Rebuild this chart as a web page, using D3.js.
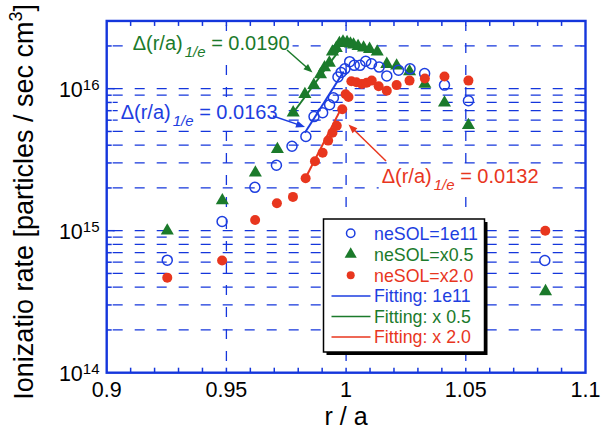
<!DOCTYPE html>
<html><head><meta charset="utf-8">
<script src="https://cdn.jsdelivr.net/npm/d3@7"></script>
<style>body{margin:0;background:#fff}svg{display:block}text{font-family:"Liberation Sans",Arial,Helvetica,sans-serif}</style>
</head><body>
<svg id="c" width="604" height="430"></svg>
<script>
// ---------- data ----------
const rBlue = [0.9253,0.9482,0.9619,0.9709,0.9774,0.9832,0.9866,0.9902,0.9931,0.9947,0.9966,0.9979,0.9995,1.0015,1.0034,1.0058,1.0082,1.0106,1.0138,1.0170,1.0219,1.0267,1.0328,1.0411,1.0511,1.0830];
const vBlue = [6.2e14,1.16e15,2.02e15,2.89e15,3.93e15,4.61e15,6.36e15,6.78e15,7.71e15,8.64e15,1.21e16,1.30e16,1.38e16,1.55e16,1.46e16,1.46e16,1.56e16,1.50e16,1.42e16,1.23e16,1.35e16,1.38e16,1.28e16,1.06e16,8.22e15,6.17e14];
const rGreen = [0.9253,0.9483,0.9621,0.9713,0.9779,0.9828,0.9865,0.9893,0.9910,0.9930,0.9943,0.9959,0.9972,0.9987,1.0004,1.0018,1.0031,1.0050,1.0073,1.0098,1.0130,1.0170,1.0211,1.0265,1.0329,1.0411,1.0511,1.0833];
const vGreen = [1.0e15,1.63e15,2.56e15,3.75e15,6.78e15,9.15e15,1.06e16,1.26e16,1.41e16,1.52e16,1.82e16,1.93e16,2.09e16,2.14e16,2.12e16,2.07e16,2.04e16,1.99e16,1.94e16,1.90e16,1.82e16,1.49e16,1.45e16,1.32e16,1.08e16,7.97e15,5.53e15,3.74e14];
const rRed = [0.9253,0.9482,0.9620,0.9711,0.9778,0.9831,0.9870,0.9902,0.9925,0.9943,0.9961,0.9984,0.9998,1.0010,1.0022,1.0043,1.0066,1.0086,1.0107,1.0136,1.0170,1.0211,1.0265,1.0329,1.0411,1.0511,1.0832];
const vRed = [4.67e14,6.17e14,1.19e15,1.56e15,1.73e15,2.34e15,3.08e15,3.54e15,4.31e15,4.90e15,5.49e15,7.17e15,9.15e15,8.73e15,1.13e16,1.11e16,1.08e16,1.10e16,1.14e16,1.04e16,9.66e15,1.06e16,1.14e16,1.18e16,1.22e16,1.14e16,1.0e15];
// exponential fits (end points)
const fitBlueR = [0.9828, 0.9990], fitBlueV = [4.9e15, 1.32e16];
const fitGreenR = [0.9780, 0.9970], fitGreenV = [6.8e15, 1.85e16];
const fitRedR = [0.9830, 0.9985], fitRedV = [2.34e15, 7.57e15];
const xTickVals = [0.9, 0.95, 1, 1.05, 1.1];
const xTickLabels = ["0.9", "0.95", "1", "1.05", "1.1"];
const yDecadeExps = [14, 15, 16];
const legendLabels = ["neSOL=1e11", "neSOL=x0.5", "neSOL=x2.0", "Fitting: 1e11", "Fitting: x 0.5", "Fitting: x 2.0"];
const annotValues = ["0.0190", "0.0163", "0.0132"];
const xTitle = "r / a";
const yTitle = "Ionizatio rate [particles / sec cm";

// ---------- styles ----------
const BLUE = "#1d3ee0", GREEN = "#1b7a2b", RED = "#e8361e", AX = "#1436dc";
const svg = d3.select("#c");
svg.append("rect").attr("width", 604).attr("height", 430).attr("fill", "#fff");
const L = 106.7, R = 585.5, B = 372.7;
const x = d3.scaleLinear().domain([0.9, 1.1]).range([L, R]);
const y = d3.scaleLog().domain([1e14, 3e16]).range([B, B - Math.log10(300) * 142]);
const T = y(3e16);

const minorY = [];
yDecadeExps.forEach(e => { for (let k = 1; k <= 9; k++) { const v = k * Math.pow(10, e); if (v > 1e14 && v < 3e16 * 0.999) minorY.push(v); } });

const g = svg.append("g");
g.selectAll("line.hg").data(minorY).enter().append("line")
  .attr("x1", L + 6).attr("x2", R - 4).attr("y1", d => y(d)).attr("y2", d => y(d))
  .attr("stroke", AX).attr("stroke-width", 1.3).attr("stroke-dasharray", "10,12");
g.selectAll("line.vg").data(xTickVals.slice(1, -1)).enter().append("line")
  .attr("x1", d => x(d)).attr("x2", d => x(d)).attr("y1", T + 4).attr("y2", B)
  .attr("stroke", AX).attr("stroke-width", 1.3).attr("stroke-dasharray", "10,12").attr("stroke-dashoffset", 4);

const xMinor = d3.range(0.91, 1.095, 0.01);
g.selectAll("line.bt").data(xMinor).enter().append("line")
  .attr("x1", d => x(d)).attr("x2", d => x(d)).attr("y1", B).attr("y2", B - 5).attr("stroke", AX).attr("stroke-width", 1.5);
g.selectAll("line.tt").data(xMinor).enter().append("line")
  .attr("x1", d => x(d)).attr("x2", d => x(d)).attr("y1", T).attr("y2", T + 5).attr("stroke", AX).attr("stroke-width", 1.5);
g.selectAll("line.lt").data(minorY).enter().append("line")
  .attr("x1", L).attr("x2", d => L + (Number.isInteger(Math.log10(d)) ? 8 : 5)).attr("y1", d => y(d)).attr("y2", d => y(d)).attr("stroke", AX).attr("stroke-width", 1.5);
g.selectAll("line.rt").data(minorY).enter().append("line")
  .attr("x1", R).attr("x2", d => R - (Number.isInteger(Math.log10(d)) ? 8 : 5)).attr("y1", d => y(d)).attr("y2", d => y(d)).attr("stroke", AX).attr("stroke-width", 1.5);

g.append("rect").attr("x", L).attr("y", T).attr("width", R - L).attr("height", B - T)
  .attr("fill", "none").attr("stroke", AX).attr("stroke-width", 2.4);

// axis labels
const xl = svg.append("g");
xl.selectAll("text").data(xTickVals).enter().append("text")
  .attr("x", d => x(d)).attr("y", 397).attr("text-anchor", "middle").attr("font-size", 21.5).attr("fill", "#000")
  .text((d, i) => xTickLabels[i]);
const yl = svg.append("g");
yDecadeExps.forEach(e => {
  const t = yl.append("text").attr("x", 99.5).attr("y", y(Math.pow(10, e)) + 8.5).attr("text-anchor", "end").attr("font-size", 21.5).attr("fill", "#000");
  t.append("tspan").text("10");
  t.append("tspan").attr("font-size", 15).attr("dy", -7.5).text(String(e));
});
svg.append("text").attr("x", x(1)).attr("y", 425).attr("text-anchor", "middle").attr("font-size", 25).attr("fill", "#000").text(xTitle);
const yt = svg.append("text").attr("transform", `translate(33,${(T + B) / 2 + 5}) rotate(-90)`).attr("text-anchor", "middle").attr("font-size", 27).attr("fill", "#000");
yt.append("tspan").text(yTitle);
yt.append("tspan").attr("font-size", 18).attr("dy", -11).text("3");
yt.append("tspan").attr("dy", 11).text("]");

// fit lines
const line = d3.line().x(d => x(d[0])).y(d => y(d[1]));
const fits = [[fitGreenR, fitGreenV, GREEN], [fitBlueR, fitBlueV, BLUE], [fitRedR, fitRedV, RED]];
fits.forEach(f => svg.append("path").attr("d", line(f[0].map((r, i) => [r, f[1][i]]))).attr("stroke", f[2]).attr("stroke-width", 2).attr("fill", "none"));

// markers
const tri = d3.symbol().type(d3.symbolTriangle).size(74);
svg.append("g").selectAll("path").data(rGreen.map((r, i) => [r, vGreen[i]])).enter().append("path")
  .attr("d", tri).attr("transform", d => `translate(${x(d[0])},${y(d[1])})`).attr("fill", GREEN);
svg.append("g").selectAll("circle").data(rBlue.map((r, i) => [r, vBlue[i]])).enter().append("circle")
  .attr("cx", d => x(d[0])).attr("cy", d => y(d[1])).attr("r", 5).attr("fill", "none").attr("stroke", BLUE).attr("stroke-width", 1.5);
svg.append("g").selectAll("circle").data(rRed.map((r, i) => [r, vRed[i]])).enter().append("circle")
  .attr("cx", d => x(d[0])).attr("cy", d => y(d[1])).attr("r", 5).attr("fill", RED);

// annotations (white background boxes)
function annot(xp, yp, val, col) {
  const bg = svg.append("rect").attr("fill", "#fff");
  const t = svg.append("text").attr("x", xp).attr("y", yp).attr("font-size", 20).attr("fill", col);
  t.append("tspan").text("\u0394(r/a)");
  t.append("tspan").attr("font-size", 15).attr("font-style", "italic").attr("dx", 2).attr("dy", 7).text("1/e");
  t.append("tspan").attr("dy", -7).text(" = " + val);
  const bb = t.node().getBBox();
  bg.attr("x", bb.x - 3).attr("y", bb.y).attr("width", bb.width + 6).attr("height", bb.height);
}
annot(132.7, 50, annotValues[0], GREEN);
annot(120.7, 118.5, annotValues[1], BLUE);
annot(381.7, 183, annotValues[2], RED);
function arrow(x1, y1, x2, y2, col) {
  const a = Math.atan2(y2 - y1, x2 - x1), len = 9, w = 3.5;
  svg.append("line").attr("x1", x1).attr("y1", y1).attr("x2", x2 - Math.cos(a) * len * 0.8).attr("y2", y2 - Math.sin(a) * len * 0.8).attr("stroke", col).attr("stroke-width", 1.5);
  const bx = x2 - Math.cos(a) * len, by = y2 - Math.sin(a) * len;
  svg.append("path").attr("d", `M${x2},${y2}L${bx - Math.sin(a) * w},${by + Math.cos(a) * w}L${bx + Math.sin(a) * w},${by - Math.cos(a) * w}Z`).attr("fill", col);
}
arrow(287, 50, 312.5, 72.5, GREEN);
arrow(273, 116, 305, 127, BLUE);
arrow(386, 161, 348.5, 124.5, RED);

// legend
const lg = svg.append("g");
const lx = 323.5, ly = 219, lw = 161, lh = 133;
lg.append("rect").attr("x", lx + 3).attr("y", ly + 3).attr("width", lw).attr("height", lh).attr("fill", "#000");
lg.append("rect").attr("x", lx).attr("y", ly).attr("width", lw).attr("height", lh).attr("fill", "#fff").attr("stroke", "#000").attr("stroke-width", 1.5);
const cols = [BLUE, GREEN, RED, BLUE, GREEN, RED];
const rowY = [233.3, 254.3, 275.2, 296, 316.5, 337];
legendLabels.forEach((lab, i) => {
  const cy = rowY[i], c = cols[i];
  if (i === 0) lg.append("circle").attr("cx", 350.7).attr("cy", cy).attr("r", 4.2).attr("fill", "none").attr("stroke", c).attr("stroke-width", 1.5);
  if (i === 1) lg.append("path").attr("d", d3.symbol().type(d3.symbolTriangle).size(64)).attr("transform", `translate(350.7,${cy})`).attr("fill", c);
  if (i === 2) lg.append("circle").attr("cx", 350.7).attr("cy", cy).attr("r", 4).attr("fill", c);
  if (i >= 3) lg.append("line").attr("x1", 331.5).attr("x2", 370.5).attr("y1", cy).attr("y2", cy).attr("stroke", c).attr("stroke-width", 1.5);
  lg.append("text").attr("x", 374).attr("y", cy + 6.3).attr("font-size", 17.8).attr("fill", c).text(lab);
});
</script>
</body></html>
